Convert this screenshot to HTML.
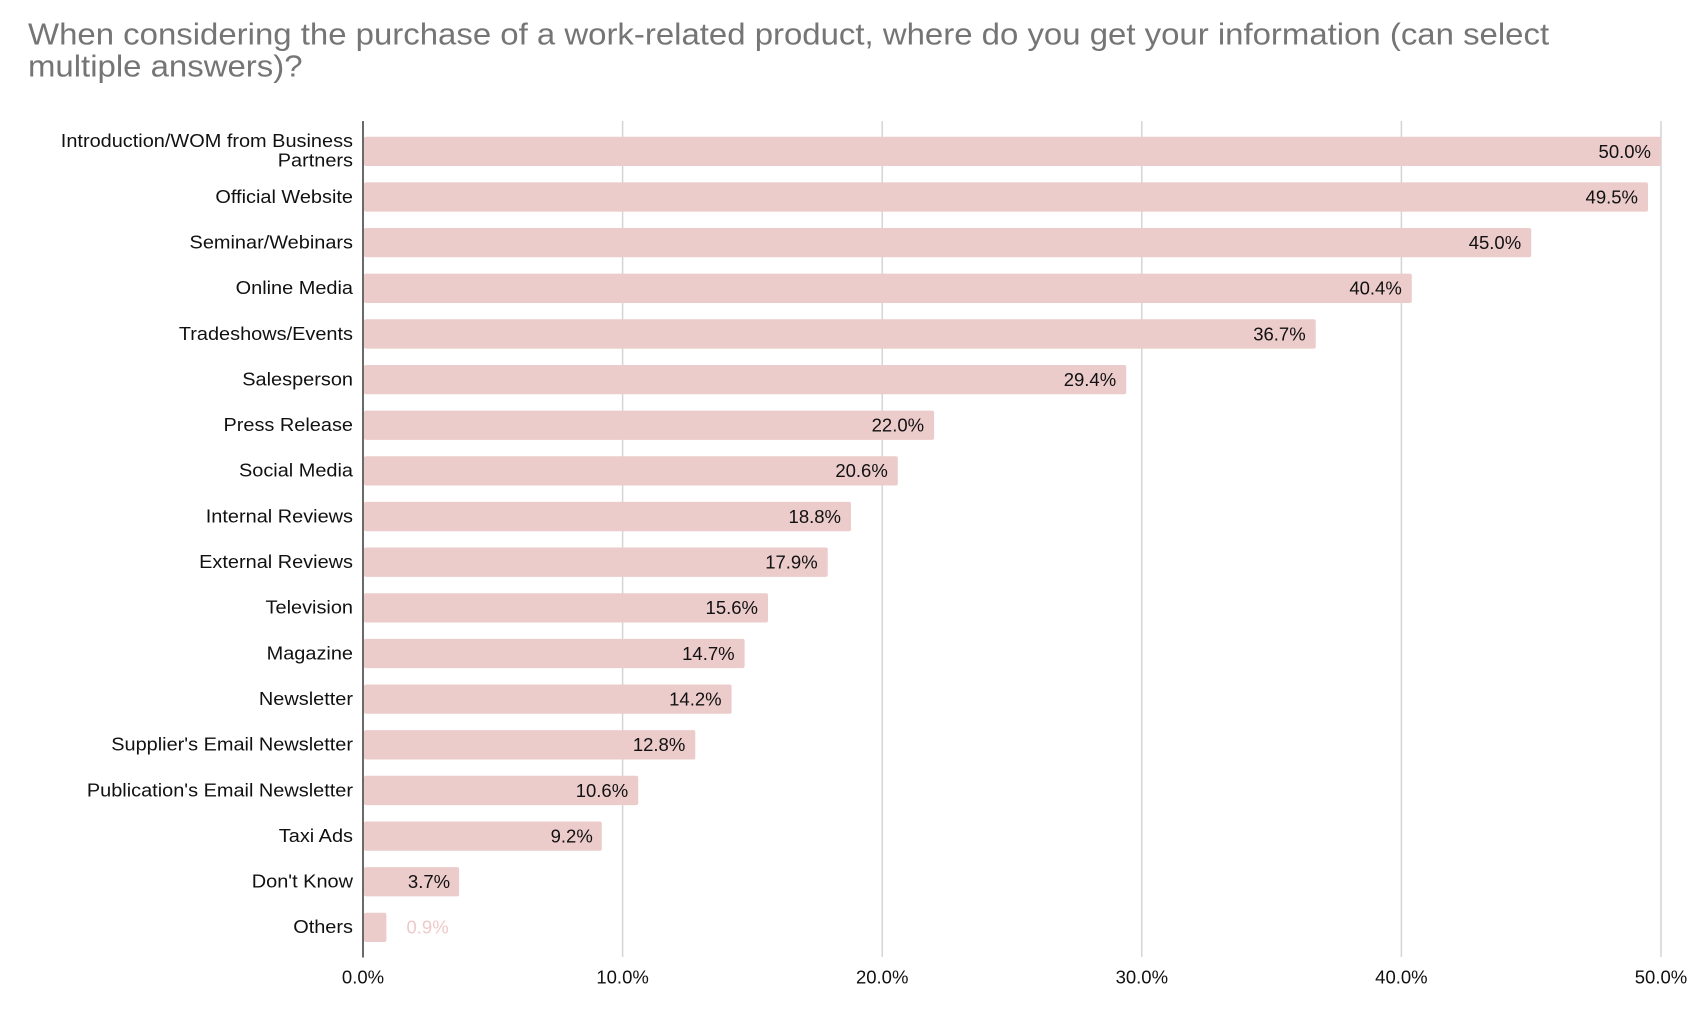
<!DOCTYPE html>
<html>
<head>
<meta charset="utf-8">
<style>
html,body{margin:0;padding:0;background:#fff;}
svg{display:block;}
text{font-family:"Liberation Sans",Arial,sans-serif;}
</style>
</head>
<body>
<svg width="1706" height="1012" viewBox="0 0 1706 1012" xmlns="http://www.w3.org/2000/svg">
<rect width="1706" height="1012" fill="#fff"/>
<g fill="#757575" font-size="30.5" transform="translate(28,0) scale(1.08,1) translate(-28,0)">
<text x="28" y="44.5">When considering the purchase of a work-related product, where do you get your information (can select</text>
<text x="28" y="76.5">multiple answers)?</text>
</g>
<!-- gridlines -->
<g stroke="#d4d4d4" stroke-width="1.5">
<line x1="622.6" y1="121" x2="622.6" y2="957"/>
<line x1="882.2" y1="121" x2="882.2" y2="957"/>
<line x1="1141.8" y1="121" x2="1141.8" y2="957"/>
<line x1="1401.4" y1="121" x2="1401.4" y2="957"/>
<line x1="1661" y1="121" x2="1661" y2="957"/>
</g>
<!-- bars -->
<g fill="#eccbcb">
<rect x="364" y="136.7" width="1297" height="29.3" rx="2"/>
<rect x="364" y="182.35" width="1284.0" height="29.3" rx="2"/>
<rect x="364" y="228.0" width="1167.2" height="29.3" rx="2"/>
<rect x="364" y="273.65" width="1047.8" height="29.3" rx="2"/>
<rect x="364" y="319.3" width="951.7" height="29.3" rx="2"/>
<rect x="364" y="364.95" width="762.2" height="29.3" rx="2"/>
<rect x="364" y="410.6" width="570.1" height="29.3" rx="2"/>
<rect x="364" y="456.25" width="533.8" height="29.3" rx="2"/>
<rect x="364" y="501.9" width="487.0" height="29.3" rx="2"/>
<rect x="364" y="547.55" width="463.7" height="29.3" rx="2"/>
<rect x="364" y="593.2" width="404.0" height="29.3" rx="2"/>
<rect x="364" y="638.85" width="380.6" height="29.3" rx="2"/>
<rect x="364" y="684.5" width="367.6" height="29.3" rx="2"/>
<rect x="364" y="730.15" width="331.3" height="29.3" rx="2"/>
<rect x="364" y="775.8" width="274.2" height="29.3" rx="2"/>
<rect x="364" y="821.45" width="237.8" height="29.3" rx="2"/>
<rect x="364" y="867.1" width="95.1" height="29.3" rx="2"/>
<rect x="364" y="912.75" width="22.4" height="29.3" rx="2"/>
</g>
<!-- axis -->
<line x1="363" y1="121" x2="363" y2="957.5" stroke="#444" stroke-width="1.6"/>
<!-- category labels -->
<g fill="#111" font-size="18.8" text-anchor="end" transform="translate(353,0) scale(1.06,1) translate(-353,0)">
<text x="353" y="147">Introduction/WOM from Business</text>
<text x="353" y="166.5">Partners</text>
<text x="353" y="202.8">Official Website</text>
<text x="353" y="248.5">Seminar/Webinars</text>
<text x="353" y="294.1">Online Media</text>
<text x="353" y="339.8">Tradeshows/Events</text>
<text x="353" y="385.4">Salesperson</text>
<text x="353" y="431.1">Press Release</text>
<text x="353" y="476.7">Social Media</text>
<text x="353" y="522.4">Internal Reviews</text>
<text x="353" y="568.0">External Reviews</text>
<text x="353" y="613.7">Television</text>
<text x="353" y="659.3">Magazine</text>
<text x="353" y="705.0">Newsletter</text>
<text x="353" y="750.6">Supplier's Email Newsletter</text>
<text x="353" y="796.3">Publication's Email Newsletter</text>
<text x="353" y="841.9">Taxi Ads</text>
<text x="353" y="887.6">Don't Know</text>
<text x="353" y="933.2">Others</text>
</g>
<!-- value labels -->
<g fill="#111" font-size="18.5" text-anchor="end">
<text x="1651" y="157.9">50.0%</text>
<text x="1638" y="203.3">49.5%</text>
<text x="1521.2" y="249.0">45.0%</text>
<text x="1401.8" y="294.6">40.4%</text>
<text x="1305.7" y="340.3">36.7%</text>
<text x="1116.2" y="385.9">29.4%</text>
<text x="924.1" y="431.6">22.0%</text>
<text x="887.8" y="477.2">20.6%</text>
<text x="841" y="522.9">18.8%</text>
<text x="817.7" y="568.5">17.9%</text>
<text x="758" y="614.2">15.6%</text>
<text x="734.6" y="659.8">14.7%</text>
<text x="721.6" y="705.5">14.2%</text>
<text x="685.3" y="751.1">12.8%</text>
<text x="628.2" y="796.8">10.6%</text>
<text x="592.8" y="842.4">9.2%</text>
<text x="450.1" y="888.1">3.7%</text>
</g>
<text x="406.5" y="933.7" fill="#efc9c9" font-size="18.5">0.9%</text>
<!-- tick labels -->
<g fill="#111" font-size="18.5" text-anchor="middle">
<text x="363" y="983.5">0.0%</text>
<text x="622.6" y="983.5">10.0%</text>
<text x="882.2" y="983.5">20.0%</text>
<text x="1141.8" y="983.5">30.0%</text>
<text x="1401.4" y="983.5">40.0%</text>
<text x="1661" y="983.5">50.0%</text>
</g>
</svg>
</body>
</html>
